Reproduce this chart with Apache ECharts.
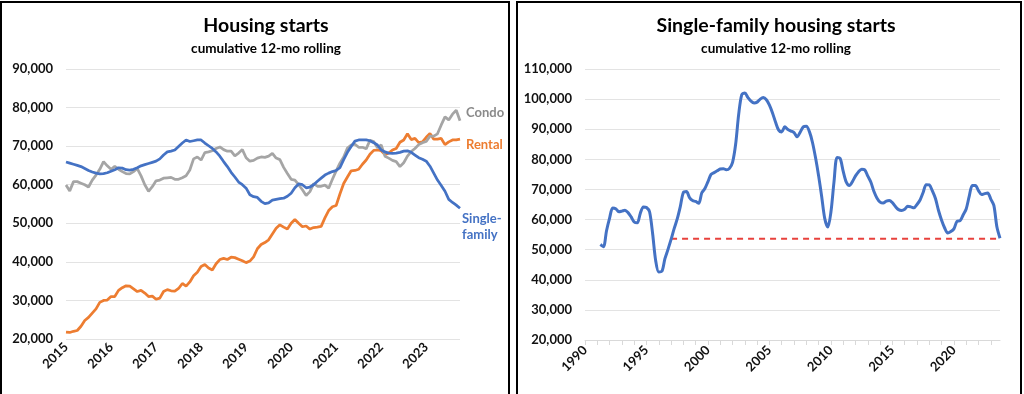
<!DOCTYPE html>
<html><head><meta charset="utf-8">
<script src="https://cdn.jsdelivr.net/npm/echarts@6/dist/echarts.min.js"></script>
<style>html,body{margin:0;padding:0;background:#fff}#c{width:1024px;height:394px}</style>
</head><body><div id="c"></div>
<script>
// ---------- Left chart: monthly, Jan 2015 .. Oct 2023 ----------
const leftYears = ['2015','2016','2017','2018','2019','2020','2021','2022','2023'];
const leftMonthCount = 106;

const condo = [
 59900,58400,60800,60800,60400,60000,59400,61200,62500,64000,66000,64900,
 64000,64800,64000,63400,62900,62800,63400,64200,62300,60000,58300,59500,
 61000,61200,61700,61800,61900,61400,61400,61800,62300,63800,66700,67200,
 66400,68300,68500,68800,69400,69800,69100,68700,68700,67500,68200,69100,
 67000,66100,66300,66900,67200,67100,67400,68100,66900,66500,64500,62900,
 61400,61200,60000,58700,57200,58200,60300,59600,59600,59900,59100,61400,
 63600,65600,67200,69500,70300,70500,69700,69700,69300,71500,71200,69600,
 70300,67400,66900,66300,66000,64700,65700,67400,68600,69400,70400,70900,
 71200,72600,72600,73200,75500,77600,76800,78300,79300,76600
];
const rental = [
 21800,21700,22000,22200,23300,24800,25600,26700,27800,29500,30000,30100,
 31000,31000,32600,33300,33800,33700,33000,32300,32600,31900,31000,31100,
 30300,30600,32300,32800,32500,32400,33100,34400,33700,34800,36400,37300,
 38800,39300,38400,37900,39500,40600,40900,40600,41200,41100,40700,40300,
 39800,40200,41300,43400,44500,45000,45700,47200,48700,49600,49000,48500,
 50000,51000,50000,49100,49300,48500,48900,49000,49200,51400,53300,54300,
 54600,57600,60300,62000,63600,63700,64000,65300,66400,67900,68900,69000,
 68800,67800,68200,69000,69400,71000,71600,73200,71700,72000,70900,71100,
 72300,73300,71800,71800,72000,70400,71100,71600,71600,71800
];
const singleFamily = [
 65900,65600,65300,65000,64700,64200,63700,63300,63000,62800,62900,63100,
 63500,63900,64400,64300,63900,63800,64000,64400,64900,65200,65500,65800,
 66100,66700,67700,68500,68700,69000,69900,70800,71600,71200,71400,71600,
 71600,70800,70100,69400,68500,67400,66000,64700,63200,62000,60700,60000,
 59100,57400,56900,56700,55700,55100,55300,56000,56200,56400,56500,57000,
 57800,59200,60200,60000,59200,59400,60000,60900,61700,62500,63000,63400,
 63700,64400,66500,68400,69900,71300,71600,71600,71600,71400,70900,70300,
 69000,68500,68200,68100,68200,68400,68700,68800,68400,67700,67000,66600,
 66100,64800,63000,61200,59800,58300,56200,55400,54700,53900
];

// ---------- Right chart: quarterly, 1991 Q2 .. 2023 Q4 ----------
const sfStartYear = 1991.25;
const sfStep = 0.25;
const sfLong = [
 51700,51000,56300,
 60500,63800,63600,62600,
 62800,63100,62300,60900,
 59200,58900,62100,64200,
 64000,62600,55300,46300,
 42600,42800,47000,50100,
 53400,57000,60200,64300,
 69000,69300,67300,66300,
 66000,65400,68900,70300,
 72600,75000,75600,76200,
 76800,76900,76500,77000,
 79000,85000,95000,101500,
 102000,100500,99300,98700,
 99000,100000,100500,99800,
 98000,95400,92300,89700,
 89100,90800,89900,89400,
 88900,87500,89000,90800,
 91000,89200,85600,80500,
 74500,67600,60300,57500,
 62500,72500,80600,80300,
 76000,72400,71300,72600,
 74500,75900,76700,76500,
 74400,72400,69300,67100,
 65800,65500,66100,66300,
 65600,64300,63300,63000,
 63400,64400,64200,63900,
 65000,66500,69000,71600,
 71500,69500,67000,63000,
 59800,57200,55500,56000,
 56900,59400,59600,61500,
 63500,67800,71300,71300,
 69600,68300,68600,68800,
 66800,64700,57500,53800
];
const refLevel = 53600;
const refStart = 1997.0;
const rightXMin = 1990, rightXMax = 2023.75;

// ---------- build ----------
const months = [];
leftYears.forEach(y => { for (let m = 1; m <= 12; m++) months.push(y + '-' + String(m).padStart(2,'0')); });
const leftCats = months.slice(0, leftMonthCount);
const sfData = sfLong.map((v, i) => [sfStartYear + i * sfStep, v]);
const refData = [[refStart, refLevel], [rightXMax, refLevel]];

const FONT = 'Lato';
const BLUE = '#4472C4', ORANGE = '#ED7D31', GRAY = '#A5A5A5';
const axisLbl = { color: '#111', fontWeight: 'bold', fontSize: 13, fontFamily: FONT };
const fmtK = v => v.toLocaleString('en-US');

const chart = echarts.init(document.getElementById('c'), null, { renderer: 'canvas' });
chart.setOption({
  animation: false,
  backgroundColor: '#fff',
  textStyle: { fontFamily: FONT },
  title: [
    { text: 'Housing starts', left: 266, top: 16, textAlign: 'center', padding: 0,
      textStyle: { fontSize: 19.5, fontWeight: 'bold', color: '#000', fontFamily: FONT } },
    { text: 'cumulative 12-mo rolling', left: 266, top: 42, textAlign: 'center', padding: 0,
      textStyle: { fontSize: 13.5, fontWeight: 'bold', color: '#000', fontFamily: FONT } },
    { text: 'Single-family housing starts', left: 776, top: 16, textAlign: 'center', padding: 0,
      textStyle: { fontSize: 19.5, fontWeight: 'bold', color: '#000', fontFamily: FONT } },
    { text: 'cumulative 12-mo rolling', left: 776, top: 42, textAlign: 'center', padding: 0,
      textStyle: { fontSize: 13.5, fontWeight: 'bold', color: '#000', fontFamily: FONT } }
  ],
  graphic: [
    { type: 'rect', shape: { x: 1, y: 2, width: 508, height: 420 }, style: { fill: 'none', stroke: '#000', lineWidth: 2 }, silent: true },
    { type: 'rect', shape: { x: 517, y: 2, width: 504, height: 420 }, style: { fill: 'none', stroke: '#000', lineWidth: 2 }, silent: true }
  ],
  grid: [
    { left: 66, top: 69, width: 394, height: 270 },
    { left: 585, top: 69, width: 415, height: 271 }
  ],
  xAxis: [
    { type: 'category', gridIndex: 0, data: leftCats, boundaryGap: false,
      axisLine: { show: false }, axisTick: { show: false }, splitLine: { show: false },
      axisLabel: Object.assign({}, axisLbl, { rotate: 45, margin: 6,
        interval: (i) => i % 12 === 0, formatter: v => v.slice(0, 4) }) },
    { type: 'value', gridIndex: 1, min: rightXMin, max: rightXMax, interval: 1,
      axisLine: { show: true, lineStyle: { color: '#d9d9d9', width: 1 } },
      axisTick: { show: true, length: 5, lineStyle: { color: '#d9d9d9' } },
      splitLine: { show: false },
      axisLabel: Object.assign({}, axisLbl, { rotate: 45, margin: 8, showMaxLabel: false,
        formatter: v => (Math.abs(v % 5) < 1e-9 ? String(v) : '') }) }
  ],
  yAxis: [
    { type: 'value', gridIndex: 0, min: 20000, max: 90000, interval: 10000,
      axisLine: { show: false }, axisTick: { show: false },
      splitLine: { lineStyle: { color: '#e3e3e3', width: 1 } },
      axisLabel: Object.assign({}, axisLbl, { margin: 13, formatter: fmtK }) },
    { type: 'value', gridIndex: 1, min: 20000, max: 110000, interval: 10000,
      axisLine: { show: false }, axisTick: { show: false },
      splitLine: { lineStyle: { color: '#e3e3e3', width: 1 } },
      axisLabel: Object.assign({}, axisLbl, { margin: 13, formatter: fmtK }) }
  ],
  series: [
    { name: 'Rental', type: 'line', xAxisIndex: 0, yAxisIndex: 0, data: rental, showSymbol: false,
      lineStyle: { color: ORANGE, width: 2.75 }, itemStyle: { color: ORANGE },
      endLabel: { show: true, formatter: 'Rental', color: ORANGE, fontWeight: 'bold', fontSize: 13, fontFamily: FONT, offset: [0, 6], distance: 6 } },
    { name: 'Condo', type: 'line', xAxisIndex: 0, yAxisIndex: 0, data: condo, showSymbol: false,
      lineStyle: { color: GRAY, width: 2.75 }, itemStyle: { color: GRAY },
      endLabel: { show: true, formatter: 'Condo', color: '#8a8a8a', fontWeight: 'bold', fontSize: 13, fontFamily: FONT, offset: [0, -8], distance: 6 } },
    { name: 'Single-family', type: 'line', xAxisIndex: 0, yAxisIndex: 0, data: singleFamily, showSymbol: false,
      lineStyle: { color: BLUE, width: 2.75 }, itemStyle: { color: BLUE },
      endLabel: { show: true, formatter: 'Single-\nfamily', color: BLUE, fontWeight: 'bold', fontSize: 13, lineHeight: 16, fontFamily: FONT, offset: [-2, 19], distance: 4 } },
    { name: 'ref', type: 'line', xAxisIndex: 1, yAxisIndex: 1, data: refData, showSymbol: false,
      lineStyle: { color: '#e8413c', width: 2, type: [6, 5] }, z: 1 },
    { name: 'Single-family long', type: 'line', xAxisIndex: 1, yAxisIndex: 1, data: sfData, showSymbol: false,
      smooth: 0.3, lineStyle: { color: BLUE, width: 3 }, itemStyle: { color: BLUE }, z: 2 }
  ]
});
</script>
</body></html>
